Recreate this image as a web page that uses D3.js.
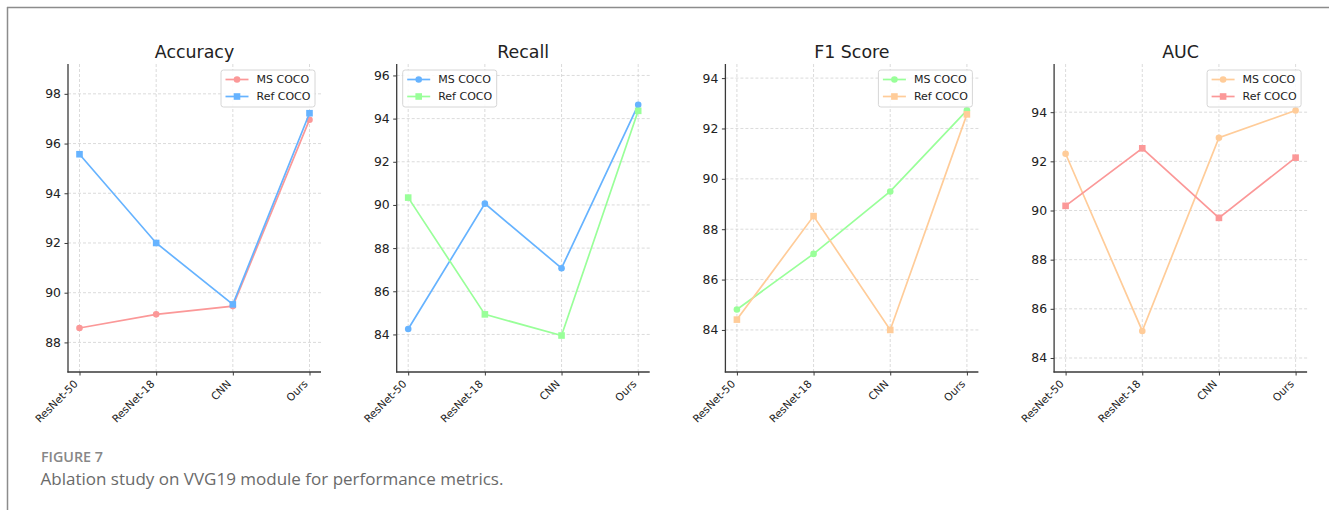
<!DOCTYPE html>
<html>
<head>
<meta charset="utf-8">
<script src="https://cdn.jsdelivr.net/npm/d3@7"></script>
<style>
  html, body { margin: 0; padding: 0; background: #fff; }
  svg { display: block; }
</style>
</head>
<body>
<svg id="fig" width="1329" height="510"></svg>
<script>
// Model variants compared in every panel
const categories = ["ResNet-50", "ResNet-18", "CNN", "Ours"];
const seriesNames = ["MS COCO", "Ref COCO"];

// Metric values per dataset
const accuracyMS  = [88.58, 89.13, 89.46, 96.96];
const accuracyRef = [95.57, 92.00, 89.53, 97.22];
const recallMS    = [84.25, 90.06, 87.07, 94.64];
const recallRef   = [90.34, 84.93, 83.95, 94.36];
const f1MS        = [84.81, 87.02, 89.50, 92.72];
const f1Ref       = [84.41, 88.52, 84.00, 92.56];
const aucMS       = [92.31, 85.10, 92.96, 94.07];
const aucRef      = [90.19, 92.53, 89.70, 92.15];

// Y-axis tick values and limits
const accuracyTicks = [88, 90, 92, 94, 96, 98];
const recallTicks   = [84, 86, 88, 90, 92, 94, 96];
const f1Ticks       = [84, 86, 88, 90, 92, 94];
const aucTicks      = [84, 86, 88, 90, 92, 94];
const accuracyLimits = [86.81, 99.2];
const recallLimits   = [82.26, 96.53];
const f1Limits       = [82.33, 94.56];
const aucLimits      = [83.43, 95.96];

const COLORS = { pink: "#fb9898", blue: "#66b3ff", green: "#99ff99", orange: "#ffcc99" };

const panels = [
  { title: "Accuracy", ms: accuracyMS, ref: accuracyRef, ticks: accuracyTicks, limits: accuracyLimits,
    colors: [COLORS.pink, COLORS.blue], legend: "right" },
  { title: "Recall", ms: recallMS, ref: recallRef, ticks: recallTicks, limits: recallLimits,
    colors: [COLORS.blue, COLORS.green], legend: "left" },
  { title: "F1 Score", ms: f1MS, ref: f1Ref, ticks: f1Ticks, limits: f1Limits,
    colors: [COLORS.green, COLORS.orange], legend: "right" },
  { title: "AUC", ms: aucMS, ref: aucRef, ticks: aucTicks, limits: aucLimits,
    colors: [COLORS.orange, COLORS.pink], legend: "right" }
];

const svg = d3.select("#fig");
const FONT = "'DejaVu Sans', sans-serif";
const AXIS_COLOR = "#3a3a3a";

// Outer frame (top and left rules)
svg.append("line").attr("x1", 7).attr("x2", 1329).attr("y1", 7.5).attr("y2", 7.5)
  .attr("stroke", "#8c8c8c").attr("stroke-width", 1.5);
svg.append("line").attr("x1", 7.5).attr("x2", 7.5).attr("y1", 7).attr("y2", 510)
  .attr("stroke", "#8c8c8c").attr("stroke-width", 1.5);

const plotTop = 64, plotBottom = 372, plotWidth = 253, panelStep = 328.7, firstLeft = 68;
const inset = 11.5;

panels.forEach((p, i) => {
  const left = firstLeft + i * panelStep;
  const right = left + plotWidth;
  const g = svg.append("g");

  const x = d3.scalePoint().domain(categories).range([left + inset, right - inset]);
  const y = d3.scaleLinear().domain(p.limits).range([plotBottom, plotTop]);

  // Grid lines
  const grid = g.append("g").attr("stroke", "#d2d2d2").attr("stroke-width", 0.8)
    .attr("stroke-dasharray", "3,2");
  p.ticks.forEach(t => {
    grid.append("line").attr("x1", left).attr("x2", right).attr("y1", y(t)).attr("y2", y(t));
  });
  categories.forEach(c => {
    grid.append("line").attr("x1", x(c)).attr("x2", x(c)).attr("y1", plotTop).attr("y2", plotBottom);
  });

  // Y axis
  const yAxis = g.append("g").attr("transform", `translate(${left},0)`)
    .call(d3.axisLeft(y).tickValues(p.ticks).tickSize(3.5).tickPadding(3.5).tickFormat(d3.format("d")));
  yAxis.select(".domain").remove();
  yAxis.selectAll("line").attr("stroke", AXIS_COLOR).attr("stroke-width", 1);
  yAxis.selectAll("text").attr("fill", "#222").style("font-family", FONT).style("font-size", "12.4px");

  // X axis with rotated labels
  const xAxis = g.append("g").attr("transform", `translate(0,${plotBottom})`)
    .call(d3.axisBottom(x).tickSize(3.5).tickPadding(0));
  xAxis.select(".domain").remove();
  xAxis.selectAll("line").attr("stroke", AXIS_COLOR).attr("stroke-width", 1);
  xAxis.selectAll("text")
    .attr("fill", "#222").style("font-family", FONT).style("font-size", "10.6px")
    .attr("text-anchor", "end")
    .attr("x", 0).attr("y", 0).attr("dy", 0)
    .attr("transform", "translate(-1.5,12.6) rotate(-45)");

  // Spines (left and bottom)
  g.append("line").attr("x1", left).attr("x2", left).attr("y1", plotTop).attr("y2", plotBottom + 0.6)
    .attr("stroke", AXIS_COLOR).attr("stroke-width", 1.3);
  g.append("line").attr("x1", left - 0.6).attr("x2", right).attr("y1", plotBottom).attr("y2", plotBottom)
    .attr("stroke", AXIS_COLOR).attr("stroke-width", 1.3);

  // Title
  g.append("text").attr("x", (left + right) / 2).attr("y", 58)
    .attr("text-anchor", "middle").attr("fill", "#222")
    .style("font-family", FONT).style("font-size", "17.4px")
    .text(p.title);

  // Series lines and markers
  const line = d3.line().x((d, j) => x(categories[j])).y(d => y(d));
  [p.ms, p.ref].forEach((vals, k) => {
    const color = p.colors[k];
    g.append("path").datum(vals).attr("d", line)
      .attr("fill", "none").attr("stroke", color).attr("stroke-width", 1.7);
    if (k === 0) {
      g.selectAll(null).data(vals).enter().append("circle")
        .attr("cx", (d, j) => x(categories[j])).attr("cy", d => y(d))
        .attr("r", 3.3).attr("fill", color);
    } else {
      g.selectAll(null).data(vals).enter().append("rect")
        .attr("x", (d, j) => x(categories[j]) - 3.3).attr("y", d => y(d) - 3.3)
        .attr("width", 6.6).attr("height", 6.6).attr("fill", color);
    }
  });

  // Legend
  const lw = 94, lh = 37;
  const lx = p.legend === "right" ? right - 6 - lw : left + 6;
  const ly = plotTop + 6;
  const lg = g.append("g").attr("transform", `translate(${lx},${ly})`);
  lg.append("rect").attr("width", lw).attr("height", lh).attr("rx", 2.5)
    .attr("fill", "#fff").attr("fill-opacity", 0.85)
    .attr("stroke", "#d6d6d6").attr("stroke-width", 1);
  seriesNames.forEach((name, k) => {
    const ry = 9.5 + k * 17;
    const color = p.colors[k];
    lg.append("line").attr("x1", 4.5).attr("x2", 27.5).attr("y1", ry).attr("y2", ry)
      .attr("stroke", color).attr("stroke-width", 1.7);
    if (k === 0) {
      lg.append("circle").attr("cx", 16).attr("cy", ry).attr("r", 3.3).attr("fill", color);
    } else {
      lg.append("rect").attr("x", 16 - 3.3).attr("y", ry - 3.3).attr("width", 6.6).attr("height", 6.6)
        .attr("fill", color);
    }
    lg.append("text").attr("x", 35.5).attr("y", ry).attr("dy", "0.36em")
      .attr("fill", "#222").style("font-family", FONT).style("font-size", "11px")
      .text(name);
  });
});

// Caption
svg.append("text").attr("x", 41).attr("y", 462.3)
  .attr("fill", "#878787").style("font-family", "'Open Sans', sans-serif")
  .style("font-size", "14.3px").style("font-weight", 600)
  .text("FIGURE 7");
svg.append("text").attr("x", 40.5).attr("y", 485)
  .attr("fill", "#6a6a6a").style("font-family", "'Open Sans', sans-serif")
  .style("font-size", "17px").style("font-weight", 400)
  .text("Ablation study on VVG19 module for performance metrics.");
</script>
</body>
</html>
